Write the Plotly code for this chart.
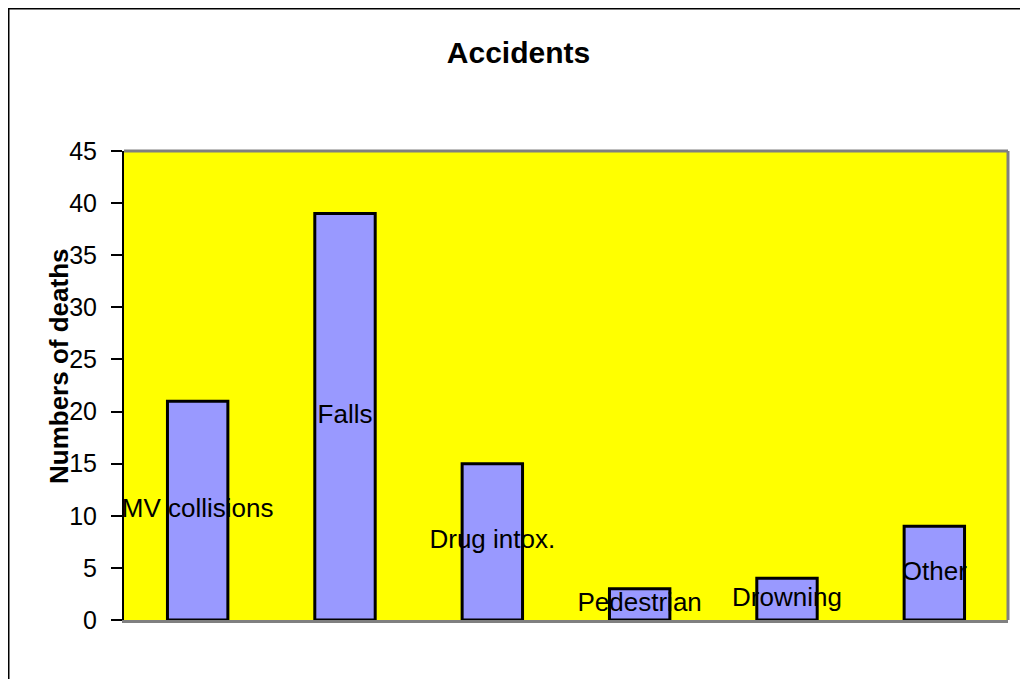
import plotly.graph_objects as go

categories = ["MV collisions", "Falls", "Drug intox.", "Pedestrian", "Drowning", "Other"]
deaths = [21, 39, 15, 3, 4, 9]
y_ticks = [0, 5, 10, 15, 20, 25, 30, 35, 40, 45]

OFF = 8  # page body margin
W, H = 1028 - OFF, 679 - OFF
L, R, T, B = 124 - OFF, 1008 - OFF, 151 - OFF, 620 - OFF
pw, ph = R - L, B - T

fig = go.Figure()
fig.add_trace(go.Bar(
    x=categories, y=deaths, width=0.41,
    marker=dict(color="#9999FF", line=dict(color="black", width=3)),
    hoverinfo="skip", showlegend=False,
))
fig.add_trace(go.Scatter(
    x=categories, y=[v / 2 for v in deaths], mode="text", text=categories,
    textposition="middle center",
    textfont=dict(family="Liberation Sans, Arial", size=26, color="black"),
    cliponaxis=False, showlegend=False, hoverinfo="skip",
))

fig.update_layout(
    width=W, height=H,
    margin=dict(l=L, r=W - R, t=T, b=H - B),
    paper_bgcolor="white", plot_bgcolor="#FFFF00",
    font=dict(family="Liberation Sans, Arial", color="black"),
    title=dict(text="<b>Accidents</b>", x=((443 + 594) / 2 - OFF) / W, xanchor="center",
               y=1 - (52 - OFF) / H, yanchor="middle", yref="container",
               font=dict(size=30, color="black")),
    xaxis=dict(showticklabels=False, ticks="", showgrid=False, zeroline=False,
               showline=True, linecolor="#808080", linewidth=3, mirror=False,
               range=[-0.5, 5.5]),
    yaxis=dict(range=[0, 45], tickvals=y_ticks, showgrid=False, zeroline=False,
               showline=True, linecolor="black", linewidth=2,
               ticks="outside", ticklen=11, tickwidth=2, tickcolor="black",
               ticklabelstandoff=9,
               tickfont=dict(size=25, color="black")),
    bargap=0.6,
)

# plot-area border (gray, top and right)
fig.add_shape(type="line", xref="paper", yref="paper", x0=0, x1=1, y0=1, y1=1,
              line=dict(color="#808080", width=3))
fig.add_shape(type="line", xref="paper", yref="paper", x0=1, x1=1, y0=0, y1=1,
              line=dict(color="#808080", width=3))

# outer chart border (top and left, at the page edge)
fig.add_shape(type="line", xref="paper", yref="paper",
              x0=(0 - L) / pw, x1=(W + 10 - L) / pw,
              y0=(B - 0) / ph, y1=(B - 0) / ph,
              line=dict(color="black", width=3))
fig.add_shape(type="line", xref="paper", yref="paper",
              x0=(0 - L) / pw, x1=(0 - L) / pw,
              y0=(B - 0) / ph, y1=(B - H - 10) / ph,
              line=dict(color="black", width=3))

# y-axis title
fig.add_annotation(text="<b>Numbers of deaths</b>", xref="paper", yref="paper",
                   x=(59 - OFF - L) / pw, y=(B - (366 - OFF)) / ph,
                   xanchor="center", yanchor="middle",
                   textangle=-90, showarrow=False,
                   font=dict(size=26, color="black"))

fig.write_html("out.html")
